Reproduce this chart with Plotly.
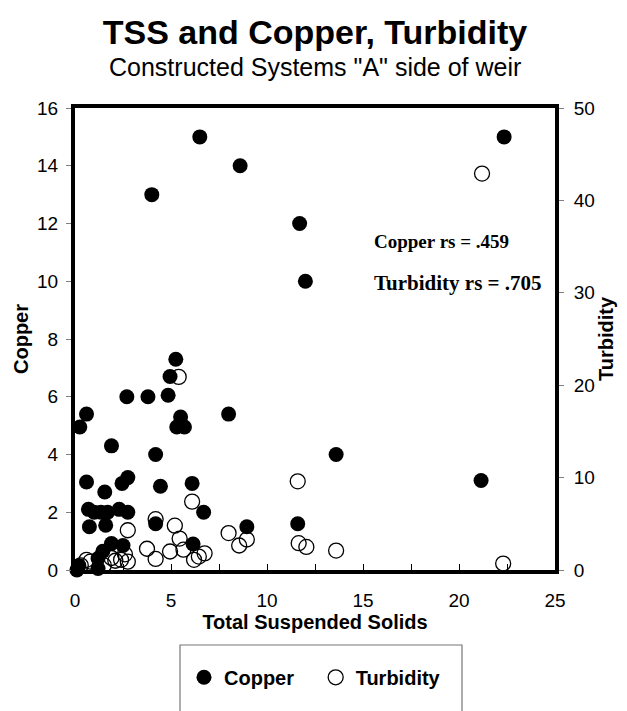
import plotly.graph_objects as go

# Total suspended solids (x) paired with copper concentration
tss_copper = [0.1, 0.2, 1.2, 1.2, 1.45, 1.9, 2.5, 0.25, 0.6, 0.6, 1.9, 1.55, 2.45, 2.75,
              2.7, 3.8, 0.7, 1.0, 1.35, 1.7, 2.3, 2.75, 0.75, 1.6, 4.2, 4.2, 4.45, 6.1,
              6.7, 6.15, 8.95, 11.6, 13.6, 21.15, 5.25, 4.95, 4.85, 5.5, 5.3, 5.7, 8.0,
              4.0, 6.5, 8.6, 11.7, 12.0, 22.35]
copper = [0.0, 0.15, 0.05, 0.4, 0.65, 0.92, 0.85, 4.95, 5.4, 3.05, 4.3, 2.7, 3.0, 3.2,
          6.0, 6.0, 2.1, 2.0, 2.0, 2.0, 2.1, 2.0, 1.5, 1.55, 1.6, 4.0, 2.9, 3.0,
          2.0, 0.9, 1.5, 1.6, 4.0, 3.1, 7.3, 6.7, 6.05, 5.3, 4.95, 4.95, 5.4,
          13.0, 15.0, 14.0, 12.0, 10.0, 15.0]

# Total suspended solids (x) paired with turbidity
tss_turbidity = [21.2, 11.6, 11.65, 12.05, 13.6, 22.3, 5.4, 6.1, 2.75, 4.2, 5.2, 5.45,
                 8.0, 8.55, 8.95, 3.75, 4.2, 4.95, 5.65, 6.2, 6.45, 6.75, 0.3, 0.6,
                 0.8, 1.9, 2.1, 2.4, 2.75, 2.6, 1.5]
turbidity = [42.9, 9.6, 2.9, 2.5, 2.1, 0.7, 20.9, 7.4, 4.3, 5.5, 4.8, 3.4,
             4.0, 2.65, 3.3, 2.3, 1.2, 2.0, 2.2, 1.1, 1.45, 1.8, 0.5, 1.1,
             0.9, 1.3, 1.0, 1.1, 0.9, 1.7, 0.5]

copper_rs = ".459"
turbidity_rs = ".705"

fig = go.Figure()

fig.add_trace(go.Scatter(
    x=tss_turbidity, y=turbidity, mode="markers", name="<b>Turbidity</b>", yaxis="y2",
    cliponaxis=False,
    marker=dict(symbol="circle-open", size=15, color="black", line=dict(width=1.3)),
))
fig.add_trace(go.Scatter(
    x=tss_copper, y=copper, mode="markers", name="<b>Copper</b>   ",
    cliponaxis=False,
    marker=dict(symbol="circle", size=15, color="black"),
))

axis_font = dict(family="Liberation Sans, Arial", size=19, color="black")
title_font = dict(family="Liberation Sans, Arial", size=20, color="black")

fig.update_layout(
    width=627, height=711,
    margin=dict(l=75, r=72, t=108, b=141),
    paper_bgcolor="white", plot_bgcolor="white",
    font=dict(family="Liberation Sans, Arial", color="black"),
    showlegend=True,
    legend=dict(
        orientation="h", x=(184 - 75) / 480, xanchor="left", y=-0.19, yanchor="top",
        traceorder="reversed",
        font=dict(family="Liberation Sans, Arial", size=20, color="black"),
        bgcolor="rgba(0,0,0,0)", itemwidth=30,
    ),
    xaxis=dict(
        range=[0, 25], dtick=5, showgrid=False, zeroline=False, automargin=False,
        showline=True, linewidth=4, linecolor="black", mirror=True,
        ticks="inside", ticklen=6, tickwidth=1, tickcolor="black",
        minor=dict(dtick=2.5, ticks="inside", ticklen=6, tickcolor="black"),
        tickfont=axis_font, ticklabelstandoff=10,
        title=dict(text="<b>Total Suspended Solids</b>", font=title_font, standoff=5),
    ),
    yaxis=dict(
        range=[0, 16], dtick=2, showgrid=False, zeroline=False, automargin=False,
        showline=True, linewidth=4, linecolor="black",
        ticks="outside", ticklen=5, tickwidth=1, tickcolor="gray",
        tickfont=axis_font, ticklabelstandoff=4,
        title=dict(text="<b>Copper</b>", font=title_font, standoff=4),
    ),
    yaxis2=dict(
        range=[0, 50], dtick=10, overlaying="y", side="right", automargin=False,
        showgrid=False, zeroline=False,
        showline=True, linewidth=4, linecolor="black",
        ticks="outside", ticklen=5, tickwidth=1, tickcolor="gray",
        tickfont=axis_font, ticklabelstandoff=6,
        title=dict(text="<b>Turbidity</b>", font=title_font, standoff=5),
    ),
    title=dict(
        text="<b>TSS and Copper, Turbidity</b>",
        font=dict(family="Liberation Sans, Arial", size=34, color="black"),
        x=0.5, xanchor="center", xref="paper", y=0.955, yanchor="middle",
    ),
    annotations=[
        dict(text='Constructed Systems "A" side of weir', xref="paper", yref="paper",
             x=0.5, y=1.0 + 41 / 462, xanchor="center", yanchor="middle",
             showarrow=False,
             font=dict(family="Liberation Sans, Arial", size=25, color="black")),
        dict(text=f"<b>Copper rs = {copper_rs}</b>", xref="paper", yref="paper",
             x=0.7625, y=0.71, xanchor="center", yanchor="middle", showarrow=False,
             font=dict(family="Liberation Serif, Times New Roman", size=19, color="black")),
        dict(text=f"<b>Turbidity rs = {turbidity_rs}</b>", xref="paper", yref="paper",
             x=0.798, y=0.621, xanchor="center", yanchor="middle", showarrow=False,
             font=dict(family="Liberation Serif, Times New Roman", size=21, color="black")),
    ],
    shapes=[
        dict(type="rect", xref="paper", yref="paper",
             x0=(180 - 75) / 480, x1=(462 - 75) / 480,
             y0=-0.40, y1=(570 - 645) / 462,
             line=dict(color="#777777", width=1.2), fillcolor="rgba(0,0,0,0)"),
    ],
)

fig.write_html("out.html")
